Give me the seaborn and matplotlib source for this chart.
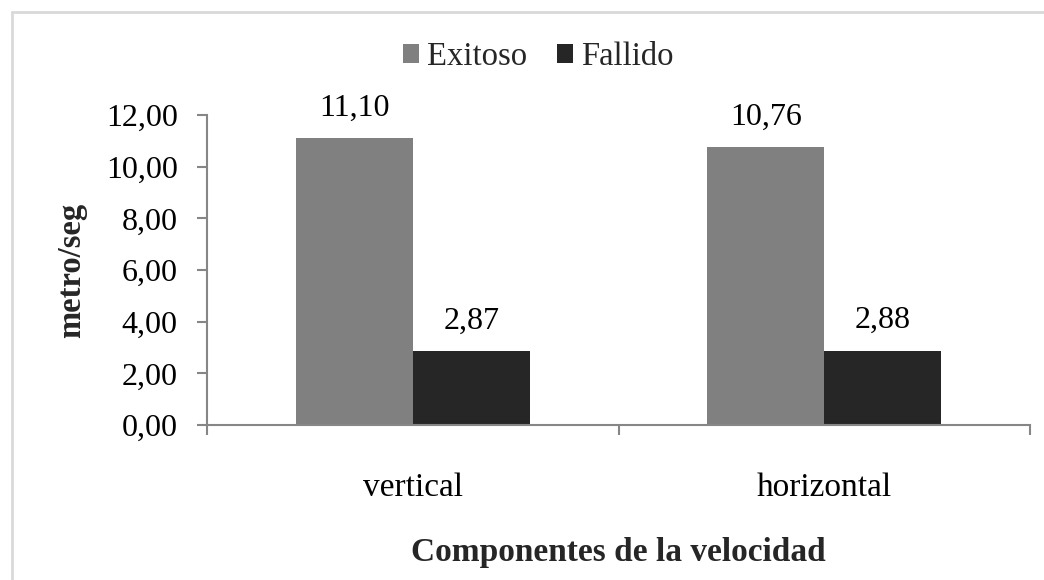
import matplotlib
matplotlib.use("Agg")
import matplotlib.pyplot as plt
from matplotlib.ticker import FuncFormatter, FixedLocator
from matplotlib.lines import Line2D
import seaborn as sns
import pandas as pd

categories = ["vertical", "horizontal"]
series_names = ["Exitoso", "Fallido"]
exitoso = [11.10, 10.76]
fallido = [2.87, 2.88]
y_ticks = [0, 2, 4, 6, 8, 10, 12]

sns.set_style("white")
plt.rcParams["font.family"] = ["Liberation Serif", "DejaVu Serif"]

rows = []
for c, v in zip(categories, exitoso):
    rows.append({"cat": c, "serie": series_names[0], "val": v})
for c, v in zip(categories, fallido):
    rows.append({"cat": c, "serie": series_names[1], "val": v})
df = pd.DataFrame(rows)

fig = plt.figure(figsize=(10.44, 5.80), dpi=100)
ax = fig.add_axes([207/1044, 155/580, 823/1044, 310/580])

palette = {"Exitoso": "#808080", "Fallido": "#262626"}
sns.barplot(data=df, x="cat", y="val", hue="serie", order=categories,
            hue_order=series_names, palette=palette, width=0.568, gap=0,
            saturation=1, ax=ax, legend=True, edgecolor="none", linewidth=0)

for cont in ax.containers:
    ax.bar_label(cont, labels=[f"{b.get_height():.2f}".replace(".", ",") for b in cont],
                 padding=11, fontsize=23, color="black")

ax.set_xlim(-0.5, 1.5)
ax.set_ylim(0, 12)
ax.yaxis.set_major_locator(FixedLocator(y_ticks))
ax.yaxis.set_major_formatter(FuncFormatter(lambda v, p: f"{v:.2f}".replace(".", ",")))

spine_c = "#868686"
for s in ["top", "right"]:
    ax.spines[s].set_visible(False)
for s in ["left", "bottom"]:
    ax.spines[s].set_color(spine_c)
    ax.spines[s].set_linewidth(1.5)

ax.tick_params(axis="y", which="major", direction="out", length=7, width=1.5,
               color=spine_c, pad=14, labelsize=23, labelcolor="black", left=True)
ax.set_xticks([-0.5, 0.5, 1.5], minor=True)
ax.tick_params(axis="x", which="minor", direction="out", length=7, width=1.5,
               color=spine_c, bottom=True)
ax.tick_params(axis="x", which="major", length=0, pad=34, labelsize=24, labelcolor="black")

ax.set_xlabel("Componentes de la velocidad", fontsize=24, fontweight="bold")
ax.xaxis.label.set_va("center")
ax.xaxis.set_label_coords(0.5, -(553 - 425) / 310)
ax.set_ylabel("metro/seg", fontsize=23.5, fontweight="bold")
ax.yaxis.label.set_va("center")
ax.yaxis.set_label_coords(-(207 - 72) / 823, 0.5)

handles, labels = ax.get_legend_handles_labels()
ax.get_legend().remove()
fig.legend(handles, labels, loc="center", bbox_to_anchor=(538/1044, 1 - 57/580),
           ncol=2, frameon=False, fontsize=23.5, handlelength=0.5, handleheight=0.5,
           handletextpad=0.25, columnspacing=0.9)

# figure border
fig.add_artist(Line2D([12/1044, 12/1044], [0, 1 - 12/580], transform=fig.transFigure,
                      color="#d9d9d9", linewidth=2))
fig.add_artist(Line2D([12/1044, 1], [1 - 12/580, 1 - 12/580], transform=fig.transFigure,
                      color="#d9d9d9", linewidth=2))

fig.savefig("out.png", dpi=100)
